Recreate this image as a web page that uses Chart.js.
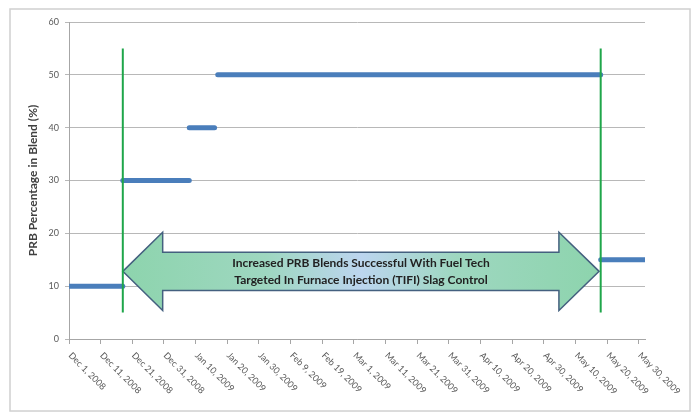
<!DOCTYPE html>
<html>
<head>
<meta charset="utf-8">
<script src="https://cdn.jsdelivr.net/npm/chart.js@4/dist/chart.umd.min.js"></script>
<style>
  html, body { margin: 0; padding: 0; background: #ffffff; }
  #wrap { width: 696px; height: 413px; }
</style>
</head>
<body>
<div id="wrap"><canvas id="c" width="696" height="413"></canvas></div>
<script>
// Days counted from Dec 1, 2008
const tickDays = [0, 10, 20, 30, 40, 50, 60, 70, 80, 90, 100, 110, 120, 130, 140, 150, 160, 170, 180];
const tickLabels = [
  'Dec 1, 2008', 'Dec 11, 2008', 'Dec 21, 2008', 'Dec 31, 2008', 'Jan 10, 2009',
  'Jan 20, 2009', 'Jan 30, 2009', 'Feb 9, 2009', 'Feb 19, 2009', 'Mar 1, 2009',
  'Mar 11, 2009', 'Mar 21, 2009', 'Mar 31, 2009', 'Apr 10, 2009', 'Apr 20, 2009',
  'Apr 30, 2009', 'May 10, 2009', 'May 20, 2009', 'May 30, 2009'
];

// PRB blend periods
const blendPct   = [10, 30, 40, 50, 15];
const blendStart = [0, 17, 38, 47, 168];
const blendEnd   = [17, 38, 46, 168, 182];

// TIFI trial start / end markers
const markerDays = [17, 168];
const markerLow = 5;
const markerHigh = 55;

const arrowText = [
  'Increased PRB Blends Successful With Fuel Tech',
  'Targeted In Furnace Injection (TIFI) Slag Control'
];

// Double-headed block arrow, in axis units (days, percent)
const arrowShape = {
  tipLeft: 17, headLeft: 29.6, headRight: 154.8, tipRight: 167.5,
  mid: 12.8, headHalf: 7.4, shaftHalf: 3.6
};

Chart.defaults.font.family = 'Lato, "Open Sans", sans-serif';

const datasets = [];
markerDays.forEach(d => {
  datasets.push({
    data: [{ x: d, y: markerLow }, { x: d, y: markerHigh }],
    borderColor: '#1fa64a',
    borderWidth: 2,
    pointRadius: 0
  });
});
blendPct.forEach((p, i) => {
  datasets.push({
    data: [{ x: blendStart[i], y: p }, { x: blendEnd[i], y: p }],
    borderColor: '#4a7ebb',
    borderWidth: 5,
    borderCapStyle: 'round',
    pointRadius: 0
  });
});

const notesPlugin = {
  id: 'notes',
  beforeDraw(chart) {
    const ctx = chart.ctx;
    ctx.save();
    ctx.fillStyle = '#ffffff';
    ctx.fillRect(0, 0, chart.width, chart.height);
    ctx.strokeStyle = '#d0d0d0';
    ctx.lineWidth = 1.5;
    ctx.strokeRect(10, 9, 680, 402);
    ctx.restore();
  },
  beforeDatasetsDraw(chart) {
    const { ctx, scales: { x, y } } = chart;
    const a = arrowShape;
    const px = v => x.getPixelForValue(v);
    const py = v => y.getPixelForValue(v);
    const pts = [
      [a.tipLeft, a.mid],
      [a.headLeft, a.mid + a.headHalf],
      [a.headLeft, a.mid + a.shaftHalf],
      [a.headRight, a.mid + a.shaftHalf],
      [a.headRight, a.mid + a.headHalf],
      [a.tipRight, a.mid],
      [a.headRight, a.mid - a.headHalf],
      [a.headRight, a.mid - a.shaftHalf],
      [a.headLeft, a.mid - a.shaftHalf],
      [a.headLeft, a.mid - a.headHalf]
    ];
    ctx.save();
    ctx.beginPath();
    pts.forEach((p, i) => {
      const X = px(p[0]), Y = py(p[1]);
      if (i === 0) ctx.moveTo(X, Y); else ctx.lineTo(X, Y);
    });
    ctx.closePath();
    const g = ctx.createLinearGradient(px(a.tipLeft), 0, px(a.tipRight), 0);
    g.addColorStop(0, '#8dd4ad');
    g.addColorStop(0.3, '#9ed7c0');
    g.addColorStop(0.5, '#bcd5ef');
    g.addColorStop(0.7, '#9ed7c0');
    g.addColorStop(1, '#8dd4ad');
    ctx.fillStyle = g;
    ctx.fill();
    ctx.strokeStyle = '#44607f';
    ctx.lineWidth = 1.5;
    ctx.lineJoin = 'miter';
    ctx.stroke();

    ctx.fillStyle = '#222222';
    ctx.font = 'bold 12px Lato, "Open Sans", sans-serif';
    ctx.textAlign = 'center';
    ctx.textBaseline = 'middle';
    const cx = (px(a.tipLeft) + px(a.tipRight)) / 2;
    const cy = py(a.mid);
    ctx.fillText(arrowText[0], cx, cy - 8);
    ctx.fillText(arrowText[1], cx, cy + 9);
    ctx.restore();
  },
  afterDraw(chart) {
    const { ctx, scales: { x } } = chart;
    ctx.save();
    ctx.fillStyle = '#595959';
    ctx.font = '9px Lato, "Open Sans", sans-serif';
    ctx.textAlign = 'left';
    ctx.textBaseline = 'middle';
    tickDays.forEach((d, i) => {
      ctx.save();
      ctx.translate(x.getPixelForValue(d) + 1, x.top + 15);
      ctx.rotate(Math.PI / 4);
      ctx.fillText(tickLabels[i], 0, 0);
      ctx.restore();
    });
    ctx.restore();
  }
};

new Chart(document.getElementById('c'), {
  type: 'line',
  data: { datasets },
  options: {
    responsive: false,
    animation: false,
    devicePixelRatio: 1,
    layout: { padding: { left: 10, right: 51, top: 22, bottom: 0 } },
    plugins: { legend: { display: false }, tooltip: { enabled: false } },
    scales: {
      x: {
        type: 'linear',
        min: 0,
        max: 182,
        afterBuildTicks: s => { s.ticks = tickDays.map(v => ({ value: v })); },
        afterFit: s => { s.height = 74; },
        ticks: { display: false },
        grid: { drawOnChartArea: false, drawTicks: true, tickLength: 5, color: '#a6a6a6' },
        border: { color: '#a6a6a6' }
      },
      y: {
        min: 0,
        max: 60,
        afterFit: s => { s.width = 59; },
        ticks: { stepSize: 10, color: '#595959', font: { size: 9 }, padding: 6 },
        grid: { color: '#b8b8b8', tickLength: 4 },
        border: { color: '#a6a6a6' },
        title: {
          display: true,
          text: 'PRB Percentage in Blend (%)',
          color: '#404040',
          font: { size: 12, weight: 'bold' },
          padding: { top: 16, bottom: 0 }
        }
      }
    }
  },
  plugins: [notesPlugin]
});
</script>
</body>
</html>
